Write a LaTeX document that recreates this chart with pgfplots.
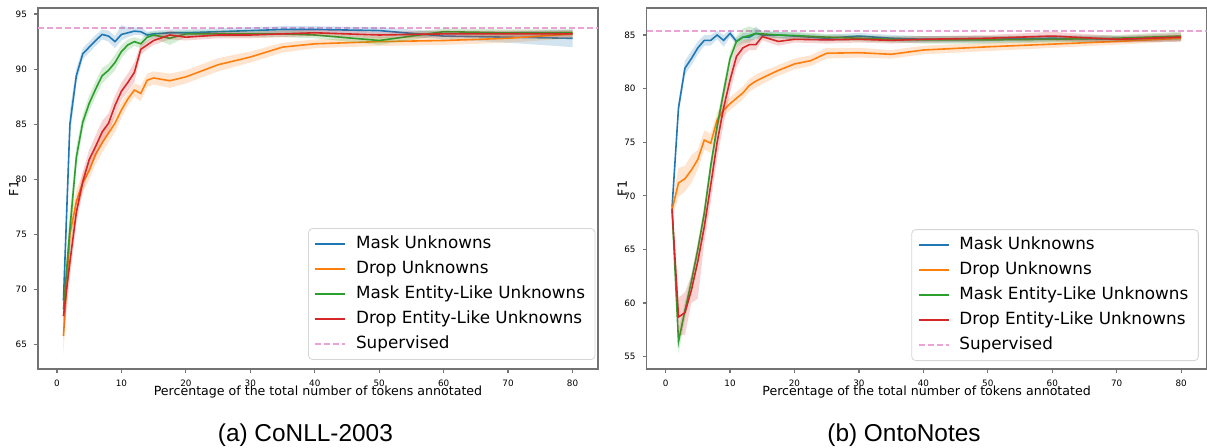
\documentclass[border=0pt]{standalone}
\usepackage{pgfplots}
\pgfplotsset{compat=1.18}
\usepackage{pgfplotstable}
\usepackage{fontspec}
\setmainfont{DejaVu Sans}
\newfontfamily\capfont{Liberation Sans}

\definecolor{tabblue}{HTML}{1F77B4}
\definecolor{taborange}{HTML}{FF7F0E}
\definecolor{tabgreen}{HTML}{2CA02C}
\definecolor{tabred}{HTML}{D62728}
\definecolor{supink}{HTML}{EBA3D6}
\definecolor{framegray}{HTML}{737373}
\definecolor{legendgray}{HTML}{D6D6D6}

% ---- CoNLL-2003 ----
\pgfplotstableread{
x y lo hi
1 69.0 67.5 70.5
2 85.0 83.8 86.3
3 89.4 88.7 90.1
4 91.4 90.9 91.9
5 92.0 91.5 92.5
6 92.6 92.1 93.1
7 93.15 92.7 93.6
8 93.0 92.5 93.5
9 92.5 91.9 93.0
10 93.15 92.6 94.0
11 93.3 92.9 93.8
12 93.45 93.1 93.8
13 93.4 93.1 93.8
14 93.1 92.8 93.4
15 93.2 92.9 93.5
17.5 93.3 93.0 93.6
20 93.3 93.0 93.6
25 93.4 93.1 93.7
30 93.5 93.2 93.8
35 93.6 93.3 93.9
40 93.6 93.3 93.9
50 93.5 93.2 93.8
60 93.0 92.7 93.4
70 92.9 92.4 93.4
80 92.8 92.0 93.6
}\conllmask

\pgfplotstableread{
x y lo hi
1 65.8 64.2 68.5
2 75.0 73.5 76.5
3 78.0 77.0 79.0
4 79.7 78.8 80.6
5 80.8 80.0 81.6
6 82.3 81.4 83.2
7 83.3 82.4 84.2
8 84.2 83.4 85.0
9 85.1 84.3 85.9
10 86.3 85.6 87.0
11 87.3 86.7 87.9
12 88.1 87.5 88.7
13 87.8 87.1 88.5
14 89.0 88.4 89.6
15 89.2 88.6 89.8
17.5 88.95 88.3 89.6
20 89.3 88.7 89.9
25 90.4 89.8 91.0
30 91.1 90.6 91.6
35 92.0 91.5 92.4
40 92.3 91.9 92.7
50 92.5 92.1 92.9
60 92.6 92.2 93.0
70 92.8 92.4 93.2
80 93.2 92.8 93.5
}\conlldrop

\pgfplotstableread{
x y lo hi
1 68.2 67.0 69.4
2 75.5 74.0 77.0
3 82.0 81.0 83.0
4 85.2 84.5 85.9
5 86.9 86.2 87.6
6 88.2 87.5 88.9
7 89.4 88.7 90.1
8 89.9 89.3 90.5
9 90.6 89.9 91.3
10 91.6 91.0 92.2
11 92.2 91.7 92.7
12 92.5 92.1 92.9
13 92.3 91.9 92.7
14 92.9 92.5 93.3
15 93.1 92.8 93.4
17.5 92.8 92.2 93.4
20 93.2 92.9 93.5
25 93.2 92.9 93.5
30 93.2 92.9 93.5
35 93.2 92.9 93.5
40 93.1 92.8 93.4
50 92.6 92.2 93.0
60 93.4 93.1 93.7
70 93.3 93.0 93.6
80 93.3 93.0 93.6
}\conllmaskent

\pgfplotstableread{
x y lo hi
1 67.6 65.5 69.5
2 72.5 71.0 74.0
3 77.0 76.0 78.0
4 79.8 78.9 80.7
5 81.8 80.9 82.7
6 83.0 82.0 84.0
7 84.3 83.3 85.3
8 85.1 84.2 86.0
9 86.7 85.8 87.6
10 88.0 87.2 88.8
11 88.8 88.0 89.6
12 89.7 88.8 90.6
13 91.8 91.3 92.3
14 92.2 91.8 92.6
15 92.6 92.2 93.0
17.5 93.1 92.7 93.5
20 92.9 92.6 93.2
25 93.1 92.8 93.4
30 93.1 92.8 93.4
35 93.2 92.9 93.5
40 93.3 93.0 93.6
50 93.1 92.8 93.4
60 93.2 92.9 93.5
70 93.2 92.9 93.5
80 93.2 92.9 93.5
}\conlldropent

% ---- OntoNotes ----
\pgfplotstableread{
x y lo hi
1 68.9 68.4 69.4
2 78.2 77.6 78.8
3 81.9 81.3 82.6
4 82.8 82.2 83.5
5 83.8 83.2 84.4
6 84.5 84.0 85.0
7 84.5 84.0 85.0
8 85.0 84.6 85.4
9 84.5 83.9 85.0
10 85.15 84.8 85.5
11 84.4 84.1 84.7
12 84.8 84.5 85.2
13 84.8 84.5 85.2
14 85.15 84.6 85.8
15 85.0 84.7 85.3
17.5 85.0 84.7 85.3
20 84.9 84.6 85.2
25 84.7 84.4 85.0
30 84.9 84.6 85.2
35 84.7 84.4 85.0
40 84.6 84.3 84.9
50 84.6 84.3 84.9
60 84.7 84.4 85.0
70 84.6 84.3 84.9
80 84.7 84.4 85.0
}\ontomask

\pgfplotstableread{
x y lo hi
1 68.7 67.9 69.5
2 71.2 69.9 72.6
3 71.6 70.4 72.8
4 72.4 71.2 73.8
5 73.4 72.5 74.3
6 75.2 74.3 76.1
7 74.9 74.0 75.8
8 77.1 76.4 77.8
9 78.0 77.4 78.6
10 78.6 78.0 79.2
11 79.1 78.5 79.7
12 79.6 79.0 80.2
13 80.3 79.7 80.9
14 80.7 80.1 81.3
15 81.0 80.4 81.6
17.5 81.7 81.2 82.2
20 82.3 81.8 82.8
22.5 82.6 82.1 83.1
25 83.3 82.8 83.8
30 83.35 82.9 83.8
35 83.2 82.8 83.6
40 83.6 83.2 84.0
50 83.9 83.5 84.3
60 84.15 83.8 84.5
70 84.4 84.1 84.7
80 84.7 84.4 85.0
}\ontodrop

\pgfplotstableread{
x y lo hi
1 68.8 68.3 69.3
2 56.4 55.3 57.5
3 59.3 58.5 60.1
4 62.0 61.3 62.7
5 65.0 64.3 65.7
6 68.4 67.7 69.1
7 72.8 72.1 73.5
8 76.5 75.8 77.2
9 79.7 79.0 80.4
10 82.8 82.2 83.4
11 84.4 83.9 84.9
12 84.8 84.2 85.6
13 84.95 84.3 85.8
14 85.15 84.7 85.6
15 85.1 84.8 85.4
17.5 85.0 84.7 85.3
20 84.95 84.6 85.3
25 84.8 84.5 85.1
30 84.7 84.4 85.0
35 84.6 84.3 84.9
40 84.55 84.2 84.9
50 84.55 84.2 84.9
60 84.6 84.3 84.9
70 84.7 84.4 85.0
80 84.9 84.5 85.3
}\ontomaskent

\pgfplotstableread{
x y lo hi
1 68.8 68.3 69.3
2 58.7 57.0 60.5
3 59.1 57.0 61.0
4 61.2 60.0 62.6
5 63.9 60.4 65.5
6 67.1 65.6 68.6
7 71.0 69.4 72.6
8 75.0 73.5 76.5
9 78.2 76.7 79.6
10 80.8 79.6 82.0
11 83.0 82.0 84.0
12 83.8 83.1 84.5
13 84.1 83.6 84.6
14 84.1 83.6 84.6
15 84.85 84.5 85.2
17.5 84.4 84.0 84.8
20 84.6 84.3 84.9
25 84.55 84.2 84.9
30 84.6 84.3 84.9
35 84.5 84.2 84.8
40 84.6 84.3 84.9
50 84.7 84.4 85.0
60 84.9 84.5 85.3
70 84.6 84.3 84.9
80 84.8 84.4 85.2
}\ontodropent

% closed outline of a band: hi going right, then lo coming back
\newcommand{\mkband}[2]{%
  \pgfplotstablesort[sort key=x, sort cmp=float <]{#2}{#1}%
  \pgfplotstablesort[sort key=x, sort cmp=float >]{\tmprev}{#1}%
  \pgfplotstablecreatecol[copy=hi]{b}{#2}%
  \pgfplotstablecreatecol[copy=lo]{b}{\tmprev}%
  \pgfplotstablevertcat{#2}{\tmprev}%
}
\mkband{\conllmask}{\bandA}
\mkband{\conlldrop}{\bandB}
\mkband{\conllmaskent}{\bandC}
\mkband{\conlldropent}{\bandD}
\mkband{\ontomask}{\bandE}
\mkband{\ontodrop}{\bandF}
\mkband{\ontomaskent}{\bandG}
\mkband{\ontodropent}{\bandH}

% band + mean line for one series
\newcommand{\series}[3]{%
  \addplot[fill=#2, fill opacity=0.2, draw=none, forget plot] table[x=x, y=b] {#3};
  \addplot[draw=#2, line width=0.8pt] table[x=x, y=y] {#1};
}

\pgfplotsset{
  legend image code/.code={\draw[#1] (0pt,0pt) -- (15pt,0pt);},
  suplin/.style={draw=supink, line width=0.75pt, dash pattern=on 3pt off 1.5pt},
  panel/.style={
    scale only axis, width=280pt, height=180.5pt,
    xmin=-2.95, xmax=83.95,
    xtick={0,10,...,80},
    tick align=outside, xtick pos=bottom, ytick pos=left,
    major tick length=2pt,
    axis line style={draw=framegray, line width=0.6pt},
    tick style={draw=framegray, line width=0.6pt},
    ticklabel style={font=\fontsize{4.4}{5}\selectfont},
    /pgf/number format/assume math mode=true,
    xlabel={Percentage of the total number of tokens annotated},
    ylabel={F1},
    label style={font=\fontsize{6.3}{7}\selectfont},
    xlabel style={at={(axis description cs:0.5,-0.0748)}, anchor=base},
    ylabel style={at={(axis description cs:-0.0352,0.5)}, anchor=base},
    legend cell align=left,
    legend style={draw=legendgray, rounded corners=2pt, fill=white,
      font=\fontsize{8.4}{10}\selectfont,
      inner xsep=3pt, inner ysep=1.5pt, row sep=0pt, column sep=3pt,
      nodes={inner xsep=2pt, inner ysep=2.25pt, text height=6.2pt, text depth=1.8pt}},
  },
}

\begin{document}
\begin{tikzpicture}

\begin{axis}[panel, at={(19pt,39.5pt)}, anchor=south west,
  ymin=62.8, ymax=95.55, ytick={65,70,...,95},
  legend style={at={(rel axis cs:0.9955,0.025)}, anchor=south east}]
  \addplot[suplin, forget plot] coordinates {(-2.95,93.75) (83.95,93.75)};
  \series{\conllmask}{tabblue}{\bandA}
  \series{\conlldrop}{taborange}{\bandB}
  \series{\conllmaskent}{tabgreen}{\bandC}
  \series{\conlldropent}{tabred}{\bandD}
  \addlegendimage{suplin}
  \legend{Mask Unknowns, Drop Unknowns, Mask Entity-Like Unknowns, Drop Entity-Like Unknowns, Supervised}
\end{axis}

\begin{axis}[panel, at={(323.3pt,39.5pt)}, anchor=south west,
  ymin=53.85, ymax=87.52, ytick={55,60,...,85},
  legend style={at={(rel axis cs:0.986,0.022)}, anchor=south east}]
  \addplot[suplin, forget plot] coordinates {(-2.95,85.37) (83.95,85.37)};
  \series{\ontomask}{tabblue}{\bandE}
  \series{\ontodrop}{taborange}{\bandF}
  \series{\ontomaskent}{tabgreen}{\bandG}
  \series{\ontodropent}{tabred}{\bandH}
  \addlegendimage{suplin}
  \legend{Mask Unknowns, Drop Unknowns, Mask Entity-Like Unknowns, Drop Entity-Like Unknowns, Supervised}
\end{axis}

\node[font=\capfont\fontsize{12.2}{14}\selectfont, anchor=base] at (152.7pt,3.2pt) {(a) CoNLL-2003};
\node[font=\capfont\fontsize{12.2}{14}\selectfont, anchor=base] at (452pt,3.2pt) {(b) OntoNotes};

\pgfresetboundingbox
\path[use as bounding box] (0,0) rectangle (603.5pt,224pt);
\end{tikzpicture}
\end{document}
